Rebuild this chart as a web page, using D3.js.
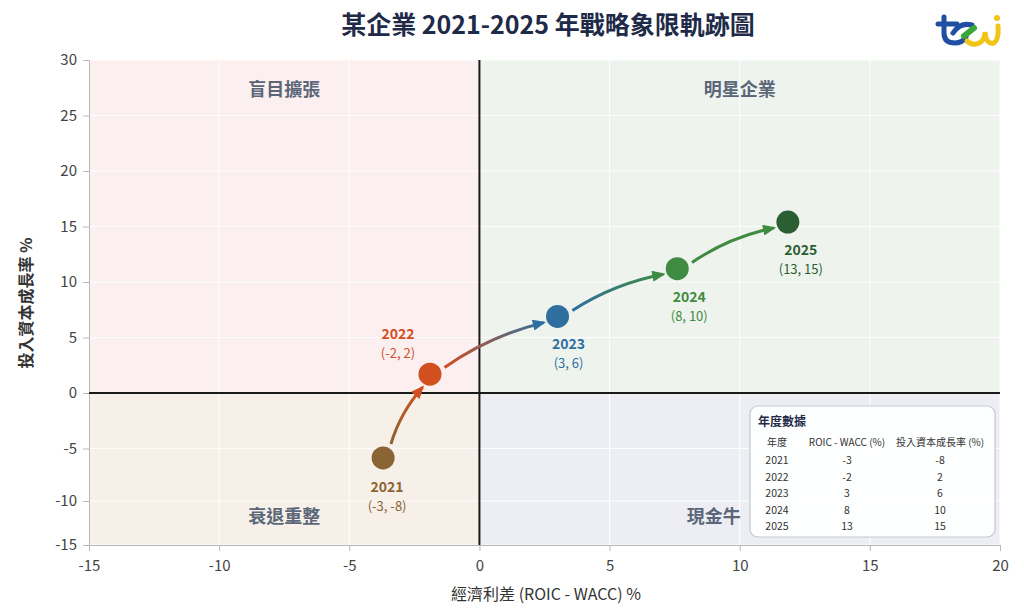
<!DOCTYPE html>
<html>
<head>
<meta charset="utf-8">
<script src="https://cdn.jsdelivr.net/npm/d3@7"></script>
<style>
  body { margin: 0; background: #fff; }
  svg text { font-family: "Noto Sans CJK TC", "Noto Sans", sans-serif; }
</style>
</head>
<body>
<div id="chart"></div>
<script>
// data
const years = ["2021", "2022", "2023", "2024", "2025"];
const roic = [-3, -2, 3, 8, 13];       // ROIC - WACC (%)
const growth = [-8, 2, 6, 10, 15];     // 投入資本成長率 (%)
// where the markers sit in the picture (data units)
const plotX = [-3.7, -1.9, 3.0, 7.6, 11.85];
const plotY = [-5.9, 1.7, 6.9, 11.2, 15.4];
const colors = ["#8b6433", "#d24f1f", "#2f6f9f", "#3f8b41", "#2b5f33"];
const xTicks = [-15, -10, -5, 0, 5, 10, 15, 20];
const yTicks = [-15, -10, -5, 0, 5, 10, 15, 20, 25, 30];
const quadrants = [
  { name: "盲目擴張", x0: -15, x1: 0, y0: 0, y1: 30, fill: "#fbeff0", lx: -7.5, ly: 27.2 },
  { name: "明星企業", x0: 0, x1: 20, y0: 0, y1: 30, fill: "#eef3ee", lx: 10, ly: 27.2 },
  { name: "衰退重整", x0: -15, x1: 0, y0: -15, y1: 0, fill: "#f6f0e9", lx: -7.5, ly: -12 },
  { name: "現金牛", x0: 0, x1: 20, y0: -15, y1: 0, fill: "#eceef4", lx: 9, ly: -12 }
];

const width = 1024;
const height = 612;

const x = d3.scaleLinear().domain([-15, 20]).range([89, 1000]);
const y = d3.scaleLinear().domain([-15, -10, -5, 30]).range([545, 501, 448.5, 60]);

const svg = d3.select("#chart").append("svg")
  .attr("width", width)
  .attr("height", height);

// quadrants
svg.selectAll("rect.quad")
  .data(quadrants)
  .enter()
  .append("rect")
  .attr("class", "quad")
  .attr("x", d => x(d.x0))
  .attr("y", d => y(d.y1))
  .attr("width", d => x(d.x1) - x(d.x0))
  .attr("height", d => y(d.y0) - y(d.y1))
  .attr("fill", d => d.fill);

// grid
svg.append("g").selectAll("line")
  .data(xTicks)
  .enter()
  .append("line")
  .attr("x1", d => x(d)).attr("x2", d => x(d))
  .attr("y1", y(30)).attr("y2", y(-15))
  .attr("stroke", "#ffffff").attr("stroke-width", 1.2).attr("opacity", 0.9);
svg.append("g").selectAll("line")
  .data(yTicks)
  .enter()
  .append("line")
  .attr("x1", x(-15)).attr("x2", x(20))
  .attr("y1", d => y(d)).attr("y2", d => y(d))
  .attr("stroke", "#ffffff").attr("stroke-width", 1.2).attr("opacity", 0.9);

// quadrant names
svg.selectAll("text.qname")
  .data(quadrants)
  .enter()
  .append("text")
  .attr("x", d => x(d.lx))
  .attr("y", d => y(d.ly))
  .attr("text-anchor", "middle")
  .attr("dominant-baseline", "middle")
  .attr("font-size", 18)
  .attr("font-weight", "bold")
  .attr("fill", "#5b6778")
  .text(d => d.name);

// axes
const xAxis = d3.axisBottom(x).tickValues(xTicks).tickFormat(d => String(d)).tickSizeOuter(0).tickSize(6);
const gx = svg.append("g")
  .attr("transform", "translate(0," + y(-15) + ")")
  .call(xAxis);
const yAxis = d3.axisLeft(y).tickValues(yTicks).tickFormat(d => String(d)).tickSizeOuter(0).tickSize(6);
const gy = svg.append("g")
  .attr("transform", "translate(" + x(-15) + ",0)")
  .call(yAxis);
[gx, gy].forEach(g => {
  g.select(".domain").attr("stroke", "#b8b8b8");
  g.selectAll(".tick line").attr("stroke", "#b8b8b8");
  g.selectAll(".tick text")
    .attr("font-size", 15)
    .attr("fill", "#444")
    .style("font-family", "'Noto Sans CJK TC', sans-serif");
});
gx.selectAll(".tick text").attr("dy", "1.1em");
gy.selectAll(".tick text").attr("dx", "-0.2em");

// zero lines
svg.append("line")
  .attr("x1", x(-15)).attr("x2", x(20))
  .attr("y1", y(0)).attr("y2", y(0))
  .attr("stroke", "#1a1a1a").attr("stroke-width", 2);
svg.append("line")
  .attr("x1", x(0)).attr("x2", x(0))
  .attr("y1", y(30)).attr("y2", y(-15))
  .attr("stroke", "#1a1a1a").attr("stroke-width", 2);

// axis titles
svg.append("text")
  .attr("x", 546).attr("y", 600)
  .attr("text-anchor", "middle")
  .attr("font-size", 16)
  .attr("fill", "#333")
  .text("經濟利差 (ROIC - WACC) %");
svg.append("text")
  .attr("transform", "translate(32,303) rotate(-90)")
  .attr("text-anchor", "middle")
  .attr("font-size", 16)
  .attr("font-weight", "bold")
  .attr("fill", "#333")
  .text("投入資本成長率 %");

// title
svg.append("text")
  .attr("x", 548).attr("y", 34)
  .attr("text-anchor", "middle")
  .attr("font-size", 25)
  .attr("font-weight", "bold")
  .attr("fill", "#1e2a47")
  .text("某企業 2021-2025 年戰略象限軌跡圖");

// arrows between years
const defs = svg.append("defs");
const pts = years.map((yr, i) => ({ px: x(plotX[i]), py: y(plotY[i]) }));
for (let i = 0; i < pts.length - 1; i++) {
  const a = pts[i], b = pts[i + 1];
  const dx = b.px - a.px, dy = b.py - a.py;
  const len = Math.sqrt(dx * dx + dy * dy);
  const ux = dx / len, uy = dy / len;
  const sx = a.px + ux * 16, sy = a.py + uy * 16;
  const ex = b.px - ux * 15, ey = b.py - uy * 15;
  const cl = len * 0.075;
  const cx = (sx + ex) / 2 + uy * cl, cy = (sy + ey) / 2 - ux * cl;

  const endColor = i === 3 ? "#3f8b41" : colors[i + 1];
  const grad = defs.append("linearGradient")
    .attr("id", "g" + i)
    .attr("gradientUnits", "userSpaceOnUse")
    .attr("x1", sx).attr("y1", sy).attr("x2", ex).attr("y2", ey);
  grad.append("stop").attr("offset", "0%").attr("stop-color", colors[i]);
  grad.append("stop").attr("offset", "100%").attr("stop-color", endColor);

  defs.append("marker")
    .attr("id", "m" + i)
    .attr("markerUnits", "userSpaceOnUse")
    .attr("viewBox", "0 0 12 10")
    .attr("refX", 10).attr("refY", 5)
    .attr("markerWidth", 14).attr("markerHeight", 11)
    .attr("orient", "auto")
    .append("path")
    .attr("d", "M0,0 L12,5 L0,10 Z")
    .attr("fill", endColor);

  svg.append("path")
    .attr("d", "M" + sx + "," + sy + " Q" + cx + "," + cy + " " + ex + "," + ey)
    .attr("fill", "none")
    .attr("stroke", "url(#g" + i + ")")
    .attr("stroke-width", 3)
    .attr("marker-end", "url(#m" + i + ")");
}

// markers
svg.selectAll("circle.pt")
  .data(pts)
  .enter()
  .append("circle")
  .attr("class", "pt")
  .attr("cx", d => d.px)
  .attr("cy", d => d.py)
  .attr("r", 11.5)
  .attr("fill", (d, i) => colors[i]);

// point labels: offsets in px relative to marker
const labelOff = [[4, 29], [-32, -40], [11, 28], [12, 28], [13, 28]];
years.forEach((yr, i) => {
  const lx = pts[i].px + labelOff[i][0];
  const ly = pts[i].py + labelOff[i][1];
  svg.append("text")
    .attr("x", lx).attr("y", ly + 5)
    .attr("text-anchor", "middle")
    .attr("font-size", 14)
    .attr("font-weight", "bold")
    .attr("fill", colors[i])
    .text(yr);
  svg.append("text")
    .attr("x", lx).attr("y", ly + 24)
    .attr("text-anchor", "middle")
    .attr("font-size", 13)
    .attr("fill", colors[i])
    .text("(" + roic[i] + ", " + growth[i] + ")");
});

// data table
const tb = svg.append("g");
tb.append("rect")
  .attr("x", 750).attr("y", 406)
  .attr("width", 245).attr("height", 131)
  .attr("rx", 8)
  .attr("fill", "#ffffff").attr("fill-opacity", 0.95)
  .attr("stroke", "#c4c8ce").attr("stroke-width", 1.2);
tb.append("text")
  .attr("x", 758).attr("y", 426)
  .attr("font-size", 12).attr("font-weight", "bold")
  .attr("fill", "#1e2a47")
  .text("年度數據");
const colX = [777, 847, 940];
const header = ["年度", "ROIC - WACC (%)", "投入資本成長率 (%)"];
header.forEach((h, j) => {
  tb.append("text")
    .attr("x", colX[j]).attr("y", 446)
    .attr("text-anchor", "middle")
    .attr("font-size", 10)
    .attr("fill", "#333")
    .text(h);
});
years.forEach((yr, i) => {
  const ry = 464 + i * 16.5;
  [yr, roic[i], growth[i]].forEach((v, j) => {
    tb.append("text")
      .attr("x", colX[j]).attr("y", ry)
      .attr("text-anchor", "middle")
      .attr("font-size", 10.5)
      .attr("fill", "#333")
      .text(v);
  });
});

// logo
const logo = svg.append("g").attr("fill", "none").attr("stroke-linecap", "round");
logo.append("path")
  .attr("d", "M944,17 V33 Q944,43 955,43 Q962,43 966,37")
  .attr("stroke", "#1f4ea3").attr("stroke-width", 5);
logo.append("path")
  .attr("d", "M938,24 H957")
  .attr("stroke", "#1f4ea3").attr("stroke-width", 5);
logo.append("path")
  .attr("d", "M953,33 Q960,22 972,25")
  .attr("stroke", "#1f4ea3").attr("stroke-width", 5);
logo.append("path")
  .attr("d", "M964,36 L974,28")
  .attr("stroke", "#3aa635").attr("stroke-width", 6);
logo.append("path")
  .attr("d", "M967,41 Q974,47 981,42 Q985,38 985,32 Q986,45 994,43 Q999,40 998,26")
  .attr("stroke", "#f2c417").attr("stroke-width", 5);
logo.append("circle")
  .attr("cx", 997).attr("cy", 18).attr("r", 3)
  .attr("fill", "#f2c417").attr("stroke", "none");
</script>
</body>
</html>
